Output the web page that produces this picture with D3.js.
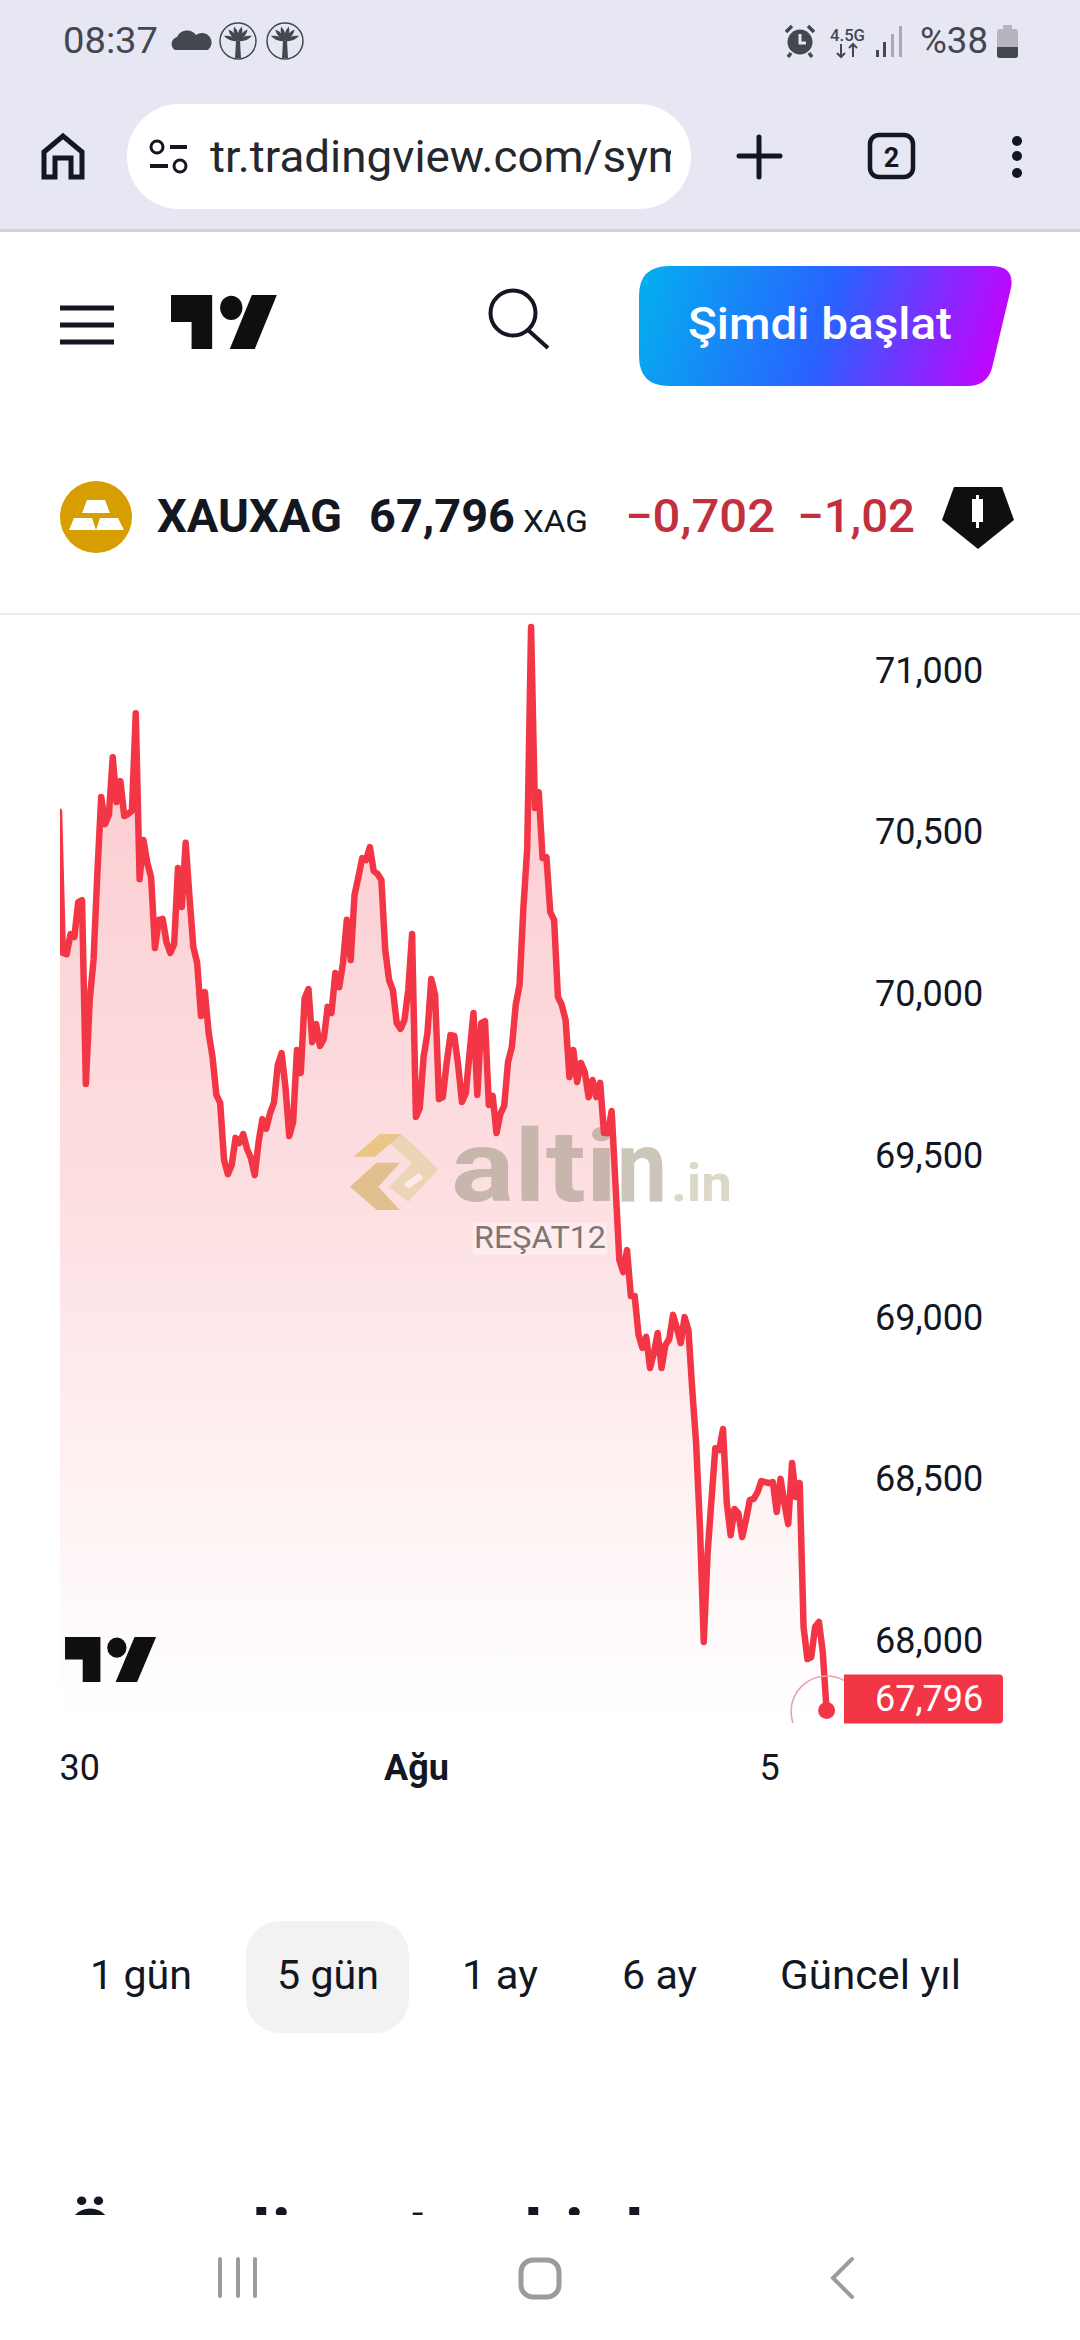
<!DOCTYPE html>
<html lang="tr">
<head>
<meta charset="utf-8">
<title>XAUXAG</title>
<script src="https://cdnjs.cloudflare.com/ajax/libs/d3/7.8.5/d3.min.js"></script>
<style>
html,body{margin:0;padding:0;background:#fff;width:1080px;height:2340px;overflow:hidden}
svg{display:block}
text{font-family:Roboto,"Noto Sans",sans-serif}
</style>
</head>
<body>
<svg id="c" width="1080" height="2340" viewBox="0 0 1080 2340"></svg>
<script>
// ---------- chart data (30-minute closes, XAU/XAG ratio) ----------
const prices = [
70.575,70.138,70.134,70.196,70.187,70.295,70.301,69.733,69.992,70.116,
70.385,70.620,70.536,70.564,70.743,70.604,70.669,70.561,70.567,70.577,
70.879,70.366,70.487,70.416,70.372,70.153,70.240,70.243,70.172,70.138,
70.165,70.400,70.280,70.478,70.311,70.156,70.107,69.943,70.017,69.890,
69.816,69.699,69.674,69.498,69.454,69.482,69.566,69.550,69.578,69.532,
69.504,69.451,69.553,69.624,69.594,69.643,69.674,69.791,69.828,69.723,
69.572,69.615,69.838,69.767,69.998,70.026,69.862,69.918,69.850,69.872,
69.971,69.952,70.076,70.032,70.107,70.240,70.116,70.317,70.372,70.431,
70.425,70.465,70.391,70.382,70.363,70.147,70.054,70.023,69.921,69.903,
69.930,70.023,70.196,69.631,69.658,69.816,69.890,70.057,70.008,69.686,
69.692,69.798,69.884,69.881,69.791,69.677,69.705,69.832,69.952,69.699,
69.921,69.927,69.668,69.696,69.581,69.640,69.665,69.801,69.847,69.977,
70.039,70.277,70.462,71.145,70.586,70.635,70.431,70.434,70.264,70.240,
70.002,69.977,69.930,69.754,69.838,69.739,69.798,69.770,69.692,69.745,
69.692,69.736,69.581,69.581,69.649,69.420,69.189,69.151,69.219,69.077,
69.077,68.957,68.917,68.951,68.855,68.901,68.963,68.855,68.926,68.944,
69.019,68.978,68.932,69.012,68.972,68.787,68.623,68.363,68.008,68.283,
68.447,68.607,68.601,68.666,68.437,68.338,68.419,68.406,68.332,68.385,
68.447,68.450,68.471,68.505,68.502,68.499,68.502,68.410,68.512,68.437,
68.372,68.561,68.456,68.499,68.054,67.955,67.961,68.054,68.070,67.977,
67.796];
const yTicks = [71, 70.5, 70, 69.5, 69, 68.5, 68];
const xTickBars = [0, 93, 185];
const xTickLabels = ["30", "Ağu", "5"];
const lastPrice = 67.796;
const symbolName = "XAUXAG";
const currencyName = "XAG";
const changeAbs = "−0,702";
const changePct = "−1,02";
const rangeLabels = ["1 gün", "5 gün", "1 ay", "6 ay", "Güncel yıl"];
const selectedRange = "5 gün";

const fmt = v => v.toFixed(3).replace(".", ",");
const RED = "#f23645", INK = "#131722";
const svg = d3.select("#c");
const defs = svg.append("defs");

// ---------- scales ----------
const x = d3.scaleLinear().domain([0, 200]).range([59, 826.6]);
const y = d3.scaleLinear().domain([68, 71]).range([1644.5, 674]);
const plotBottom = 1725;

// ---------- browser chrome ----------
svg.append("rect").attr("width",1080).attr("height",229).attr("fill","#e6e7f3");
svg.append("rect").attr("y",229).attr("width",1080).attr("height",3).attr("fill","#d2d2da");
const T=(s,xx,yy,size,opt={})=>svg.append("text").text(s).attr("x",xx).attr("y",yy)
  .attr("font-size",size).attr("fill",opt.fill||INK).attr("font-weight",opt.w||400)
  .attr("text-anchor",opt.a||"start").attr("font-family",opt.f||null)
  .attr("textLength",opt.l||null).attr("lengthAdjust",opt.l?"spacingAndGlyphs":null);

T("08:37",63,53,37,{fill:"#454750",l:95});
svg.append("path").attr("fill","#45474f")
  .attr("d","M175 50a7 7 0 0 1 0-12 l2-1a11 11 0 0 1 19-2 9 9 0 0 1 12 15z");
[238,285].forEach(cx=>{
  const g=svg.append("g").attr("transform",`translate(${cx},41)`);
  g.append("ellipse").attr("rx",18).attr("ry",18).attr("fill","#e6e7f3").attr("stroke","#45474f").attr("stroke-width",1.5);
  g.append("path").attr("d","M-2 0L-3 17H3L2 0Z").attr("fill","#45474f");
  [-70,-40,-15,15,40,70].forEach(a=>g.append("path")
    .attr("d","M0 0Q-4 -8 0 -15Q4 -8 0 0Z").attr("fill","#45474f")
    .attr("transform",`rotate(${a})`));
});
// status right
const alarm=svg.append("g").attr("transform","translate(800,42)");
alarm.append("circle").attr("r",12.5).attr("fill","#45474f");
alarm.append("path").attr("d","M0 -8V1H6").attr("stroke","#e6e7f3").attr("stroke-width",3).attr("fill","none");
alarm.append("path").attr("d","M-14 -10L-8 -16M14 -10L8 -16M-9 11L-12 15M9 11L12 15").attr("stroke","#45474f").attr("stroke-width",3.5).attr("fill","none");
T("4.5G",830,41,17,{fill:"#45474f",w:500,l:35});
svg.append("path").attr("d","M841 44v13M837 53l4 4 4 -4M853 44v13M849 48l4 -4 4 4")
  .attr("stroke","#45474f").attr("stroke-width",2).attr("fill","none");
[[877,50,7],[884,42,15],[892,34,23],[900,26,31]].forEach((b,i)=>svg.append("rect").attr("x",b[0]-1).attr("y",b[1]).attr("width",3).attr("height",b[2])
  .attr("fill",i<2?"#45474f":"#a8a9b2"));
T("%38",920,53,37,{fill:"#454750",l:68});
svg.append("rect").attr("x",997).attr("y",29).attr("width",21).attr("height",29).attr("rx",3).attr("fill","#b4b5bd");
svg.append("rect").attr("x",1003).attr("y",25).attr("width",9).attr("height",5).attr("fill","#b4b5bd");
svg.append("path").attr("d","M997 47H1018V55a3 3 0 0 1 -3 3H1000a3 3 0 0 1 -3 -3Z").attr("fill","#45474f");

// home
svg.append("path").attr("d","M44 177V152L63 136L82 152V177H71V158H55V177Z").attr("fill","none").attr("stroke",INK).attr("stroke-width",5);
// address pill
svg.append("rect").attr("x",127).attr("y",104).attr("width",564).attr("height",105).attr("rx",52).attr("fill","#fff");
svg.append("circle").attr("cx",157).attr("cy",147).attr("r",6).attr("fill","none").attr("stroke",INK).attr("stroke-width",3);
svg.append("circle").attr("cx",180).attr("cy",166).attr("r",6).attr("fill","none").attr("stroke",INK).attr("stroke-width",3);
svg.append("path").attr("d","M170 147H187M150 166H168").attr("stroke",INK).attr("stroke-width",4);
defs.append("clipPath").attr("id","urlClip").append("rect").attr("x",205).attr("y",110).attr("width",466).attr("height",90);
T("tr.tradingview.com/sym",210,172,45,{fill:"#25272e"}).attr("clip-path","url(#urlClip)").attr("textLength",478).attr("lengthAdjust","spacingAndGlyphs");
// plus, tabs, menu
svg.append("path").attr("d","M759 137V177M739 156H780").attr("stroke",INK).attr("stroke-width",5).attr("stroke-linecap","round");
svg.append("rect").attr("x",870).attr("y",135).attr("width",43).attr("height",42).attr("rx",9).attr("fill","none").attr("stroke",INK).attr("stroke-width",4.5);
T("2",891.5,167,27,{a:"middle",w:700});
[141,156,173].forEach(cy=>svg.append("circle").attr("cx",1017).attr("cy",cy).attr("r",5).attr("fill",INK));

// ---------- site header ----------
[308,325,342].forEach(by=>svg.append("rect").attr("x",60).attr("y",by-2.5).attr("width",54).attr("height",5).attr("fill",INK));
const tvLogo=(tx,ty,sx,sy)=>{
  const g=svg.append("g").attr("transform",`translate(${tx},${ty}) scale(${sx},${sy})`).attr("fill","#0f0f0f");
  g.append("path").attr("d","M14 0H0V8H7V16H14Z");
  g.append("path").attr("d","M27.5 0H36L28.5 16H20Z");
  g.append("ellipse").attr("cx",20.5).attr("cy",3.8).attr("rx",3.8).attr("ry",3.6);
};
tvLogo(171,295,2.94,3.375);
svg.append("circle").attr("cx",513).attr("cy",313).attr("r",22.5).attr("fill","none").attr("stroke",INK).attr("stroke-width",4);
svg.append("path").attr("d","M528 330L548 348").attr("stroke",INK).attr("stroke-width",4);
const bg=defs.append("linearGradient").attr("id","btn").attr("x1","0").attr("x2","1").attr("y1","0.45").attr("y2","0.55");
[[0,"#06aaf0"],[0.5,"#2962ff"],[1,"#c800ff"]].forEach(s=>bg.append("stop").attr("offset",s[0]).attr("stop-color",s[1]));
svg.append("path").attr("fill","url(#btn)")
  .attr("d","M669 266H991Q1015 266 1011 288L992 368Q987 386 967 386H669Q639 386 639 356V296Q639 266 669 266Z");
T("Şimdi başlat",820,339,45,{fill:"#fff",a:"middle",w:500,l:264});

// ---------- symbol row ----------
svg.append("circle").attr("cx",96).attr("cy",517).attr("r",36).attr("fill","#d69e00");
svg.append("path").attr("fill","#fff").attr("d","M87 500H105L110 513H82ZM74 518H92L96 530H69ZM100 518H118L124 530H96Z");
T(symbolName,157,532,46,{w:700,l:185});
T(fmt(lastPrice),369,532,46,{w:700,l:146});
T(currencyName,523,532,31,{l:65});
T(changeAbs,625,532,46,{fill:"#c2303f",w:500,l:150});
T(changePct,797,532,46,{fill:"#c2303f",w:500,l:118});
svg.append("path").attr("d","M954 487H1002L1014 520L978 549L942 520Z").attr("fill","#0f0f0f");
svg.append("path").attr("d","M972 499H976V495H979V499H983V522H979V528H976V522H972Z").attr("fill","#fff");
svg.append("rect").attr("y",613).attr("width",1080).attr("height",1.8).attr("fill","#e9e9ea");

// ---------- price area + line ----------
const fg=defs.append("linearGradient").attr("id","fade").attr("gradientUnits","userSpaceOnUse")
  .attr("x1",0).attr("x2",0).attr("y1",627).attr("y2",plotBottom);
[[0,0.27],[0.5,0.165],[0.8,0.06],[1,0]].forEach(s=>fg.append("stop").attr("offset",s[0])
  .attr("stop-color",RED).attr("stop-opacity",s[1]));
defs.append("clipPath").attr("id","plot").append("rect").attr("x",60).attr("y",620).attr("width",790).attr("height",1110);

const plot=svg.append("g").attr("clip-path","url(#plot)");
plot.append("path").datum(prices).attr("fill","url(#fade)")
  .attr("d",d3.area().x((d,i)=>x(i)).y0(plotBottom).y1(d=>y(d)));

// watermark
const wm=svg.append("g");
const lg=wm.append("g").attr("transform","translate(340,1110) scale(0.3333)");
lg.append("polygon").attr("fill","#ecd5b7").attr("points","185,72 295,178 205,275 148,232 215,160 150,100");
lg.append("polygon").attr("fill","#fdeaea").attr("points","190,222 238,188 250,205 205,236");
lg.append("polygon").attr("fill","#e9c588").attr("points","40,140 120,72 185,72 105,140");
lg.append("polygon").attr("fill","#e0c08e").attr("points","30,230 110,158 180,158 115,230 180,300 110,300");
const WM="'Liberation Sans',Arial,sans-serif";
wm.append("text").text("alti").attr("x",451).attr("y",1201).attr("font-size",100).attr("font-weight",700)
  .attr("font-family",WM).attr("fill","#c8b5ab").attr("textLength",166).attr("lengthAdjust","spacingAndGlyphs");
wm.append("text").text("n").attr("x",617).attr("y",1201).attr("font-size",100).attr("font-weight",700)
  .attr("font-family",WM).attr("fill","#cbc6b9").attr("textLength",50).attr("lengthAdjust","spacingAndGlyphs");
wm.append("text").text(".in").attr("x",671).attr("y",1201).attr("font-size",52).attr("font-weight",700)
  .attr("font-family",WM).attr("fill","#dbd8c8").attr("textLength",61).attr("lengthAdjust","spacingAndGlyphs");
wm.append("rect").attr("x",473).attr("y",1223).attr("width",134).attr("height",32).attr("fill","#fff").attr("fill-opacity",0.35);
wm.append("text").text("REŞAT12").attr("x",474).attr("y",1248).attr("font-size",32)
  .attr("font-family",WM).attr("fill","#7b7775").attr("textLength",132).attr("lengthAdjust","spacingAndGlyphs");

svg.append("g").attr("clip-path","url(#plot)").append("path").datum(prices).attr("fill","none")
  .attr("stroke",RED).attr("stroke-width",6.5).attr("stroke-linejoin","round").attr("stroke-linecap","round")
  .attr("d",d3.line().x((d,i)=>x(i)).y(d=>y(d)));

tvLogo(65,1637,2.53,2.81);

// pulse ring + last-price marker
defs.append("clipPath").attr("id","ring").append("rect").attr("x",780).attr("y",1660).attr("width",64).attr("height",63);
svg.append("circle").attr("clip-path","url(#ring)").attr("cx",x(200)).attr("cy",y(lastPrice)+1)
  .attr("r",35.5).attr("fill","none").attr("stroke","#e8a4ac").attr("stroke-width",1.6);
svg.append("circle").attr("cx",x(200)).attr("cy",y(lastPrice)).attr("r",8.5).attr("fill",RED);

// ---------- axes ----------
const yAxis=svg.append("g").attr("transform","translate(868,-3.5)")
  .call(d3.axisRight(y).tickValues(yTicks).tickFormat(fmt).tickSize(0).tickPadding(7));
yAxis.select(".domain").remove();
yAxis.selectAll("text").attr("font-family","Roboto").attr("font-size",36).attr("fill",INK);

const xAxis=svg.append("g").attr("transform","translate(0,1750)")
  .call(d3.axisBottom(x).tickValues(xTickBars).tickFormat((d,i)=>xTickLabels[i]).tickSize(0).tickPadding(0));
xAxis.select(".domain").remove();
xAxis.selectAll("text").attr("font-family","Roboto").attr("font-size",36).attr("fill",INK)
  .attr("font-weight",(d,i)=>i===1?700:400)
  .attr("text-anchor",(d,i)=>i===0?"start":"middle").attr("dx",0).attr("dy",30)
  .attr("y",0);

// price label
svg.append("path").attr("fill",RED).attr("d","M844 1674.5H999a4 4 0 0 1 4 4V1719.5a4 4 0 0 1 -4 4H844Z");
T(fmt(lastPrice),875,1710.5,36,{fill:"#fff"});

// ---------- range selector ----------
svg.append("rect").attr("x",246).attr("y",1921).attr("width",163).attr("height",112).attr("rx",34).attr("fill","#f2f2f3");
const rangeX=[90,277,462,622,780], rangeW=[102,102,76,75,181];
rangeLabels.forEach((r,i)=>T(r,rangeX[i],1989,41,{l:rangeW[i]}).attr("data-selected",r===selectedRange?1:null));

// ---------- bottom of page, cut off by nav bar ----------
defs.append("clipPath").attr("id","cut").append("rect").attr("x",0).attr("y",2180).attr("width",1080).attr("height",35);
const cut=svg.append("g").attr("clip-path","url(#cut)");
[["Ö",66],["l",252],["i",272],["t",407],["l",524],["i",565],["l",625]].forEach(p=>
  cut.append("text").text(p[0]).attr("x",p[1]).attr("y",2259).attr("font-size",70).attr("font-weight",700).attr("fill",INK));

const NAV="#9c9c9c";
[220,238,255].forEach(nx=>svg.append("path").attr("d",`M${nx} 2259V2296`).attr("stroke",NAV).attr("stroke-width",4).attr("stroke-linecap","round"));
svg.append("rect").attr("x",521).attr("y",2260).attr("width",38).attr("height",37).attr("rx",12).attr("fill","none").attr("stroke",NAV).attr("stroke-width",5);
svg.append("path").attr("d","M852 2259L833 2278L852 2297").attr("fill","none").attr("stroke",NAV).attr("stroke-width",4).attr("stroke-linecap","round");
</script>
</body>
</html>
